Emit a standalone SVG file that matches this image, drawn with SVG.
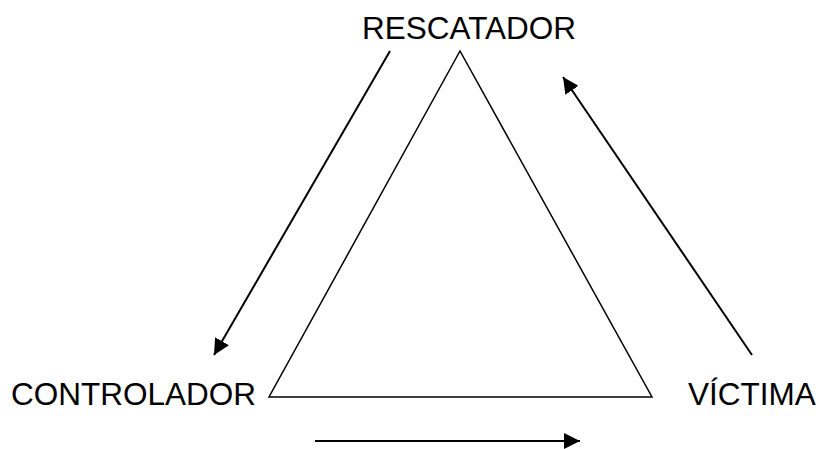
<svg xmlns="http://www.w3.org/2000/svg" width="819" height="449" viewBox="0 0 819 449">
<style>
text{font-family:"Liberation Sans",Arial,sans-serif;font-size:31.5px;fill:#000}
.c{stroke:#000;stroke-width:2;fill:none}
</style>
<defs>
<marker id="ah" markerUnits="userSpaceOnUse" markerWidth="16" markerHeight="16" viewBox="0 0 16 16" refX="16" refY="8" orient="auto">
<path d="M0,0 L16,8 L0,16 Z" fill="#000"/>
</marker>
</defs>
<rect width="819" height="449" fill="#fff"/>
<g id="triangle"><polygon points="460,51 269,397 652,397" fill="none" stroke="#000" stroke-width="1.5"/></g>
<g id="rescatador"><text x="469" y="39" text-anchor="middle">RESCATADOR</text></g>
<g id="controlador"><text x="11" y="405">CONTROLADOR</text></g>
<g id="victima"><text x="688" y="405">VÍCTIMA</text></g>
<g id="connectors">
<line class="c" x1="390" y1="51" x2="214" y2="355" marker-end="url(#ah)"/>
<line class="c" x1="752" y1="355" x2="563" y2="77" marker-end="url(#ah)"/>
<line class="c" x1="315" y1="441" x2="580" y2="441" marker-end="url(#ah)"/>
</g>
</svg>
